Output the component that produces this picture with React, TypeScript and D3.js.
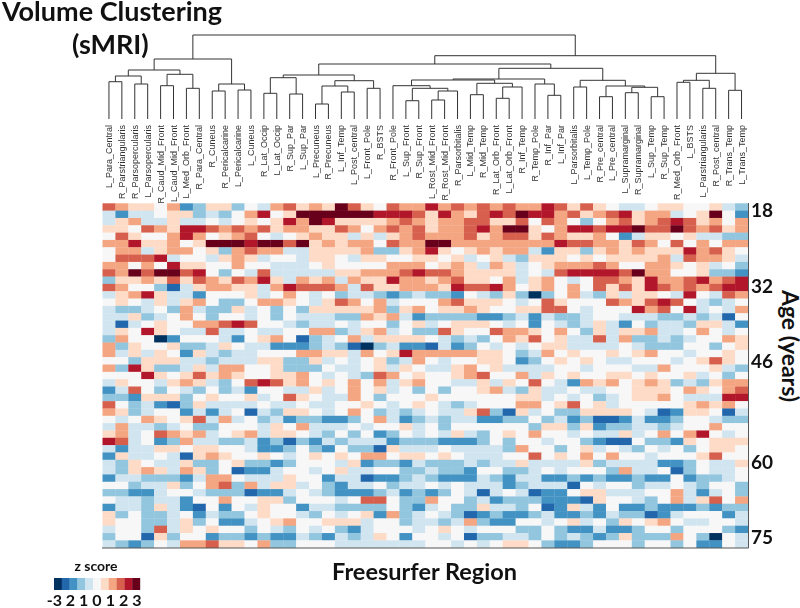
import React from "react";
import * as d3 from "d3";

const regions = ["L_Para_Central","R_Parstriangularis","R_Parsopercularis","L_Parsopercularis","R_Caud_Mid_Front","L_Caud_Mid_Front","L_Med_Orb_Front","R_Para_Central","R_Cuneus","R_Pericalcarine","L_Pericalcarine","L_Cuneus","R_Lat_Occip","L_Lat_Occip","R_Sup_Par","L_Sup_Par","L_Precuneus","R_Precuneus","L_Inf_Temp","L_Post_central","L_Front_Pole","R_BSTS","R_Front_Pole","L_Sup_Front","R_Sup_Front","L_Rost_Mid_Front","R_Rost_Mid_Front","R_Parsorbitalis","L_Mid_Temp","R_Mid_Temp","R_Lat_Orb_Front","L_Lat_Orb_Front","R_Inf_Temp","R_Temp_Pole","R_Inf_Par","L_Inf_Par","L_Parsorbitalis","L_Temp_Pole","R_Pre_central","L_Pre_central","L_Supramarginal","R_Supramarginal","L_Sup_Temp","R_Sup_Temp","R_Med_Orb_Front","L_BSTS","L_Parstriangularis","R_Post_central","R_Trans_Temp","L_Trans_Temp"];

const palette = ["#053061","#2166ac","#4393c3","#92c5de","#d1e5f0","#f7f7f7","#fddbc7","#f4a582","#d6604d","#b2182b","#67001f"];
const levels = "abcdefghijk";

const leftHalf = [
"i h g g f h c d g g d f e h i g h g k i g f i h h",
"e c e e f g g d e d f h j f g k k k k k k j j j i",
"e g h e e g e e f e f g f g j h k j g g g g h i h",
"g g f i h g j j i h i h i g h h g g i h f h i h i",
"f i g f f h j h f g h i f e f g h g g e g e g h i",
"h h j g g h f g k k k j k k i k g h g h h f i h h",
"f h h e g h h f g d h i h h e e g g g g h d d g h",
"f i i i j e f f e g h g e f f e g g f e g g f f g",
"h h f h f j g g f f h f f e e e f g f f f f h h h",
"i h k i k k i j f d f e i e e e e e g g h h h i j",
"d g g h g i g i h g i h j g e h g h e h g g j h h",
"i h f f d b e g h h g g e h j i i i h e i g g h h",
"e g h j g e e c f f f g e f h f e f d e e d c d e",
"f g f e g e g h f d d f h h g f e g i h f h e f f",
"e d d e f d h e d d g e f d f d g g g g g h d g h",
"e e g d e f h f d f f e f d f e e e d d h g h e c",
"e b e f g f f h h i j i f f e d e e f e f f d f g",
"e g f j g f e e i e e f e e f f h h d e g h e f d",
"d h f f a c f f f e c f g h f b d e f h e g g g g",
"h d g f f g d d e g f e e c c c d e d b a d e c c",
"h e g e g f c g e d e e f f f h h g g e h f g j h",
"f f d g g g e e d e e e g g d d g e f e f g d e h",
"h d j g d d e g e h h f f g d d d f e e f g e g f",
"f f f j g f g i g h g f f g g h f e f e d i h f g",
"e g f f e g h g e d f i j i g h f g f h f h e g h",
"c e i f d f e d f d e c f f e e g e f h f g e f d",
"d d c g g g d f g f f g e f i g f e e h f d f f f",
"i f d e c b d g e e e e f e e f e e f f g f e f g",
"h g d e f f c e c e f b e d g g f e f h f d e d e",
"f e f h g f g i e h e f d e c d d c c d f h e c d",
"e h e e d e f d d f f f e g f h e e e f e f f g e",
"g h e f i h g h e f g h e g g f e d f d f c d f e",
"j i e f c d h e e d d e c d b d c e d e e e c d d",
"e c e e g g f g g f f e c c d f d c f d d b g e e",
"c g e e f e b g h g f f g f e f g f g f h h f g g",
"e d g f e e g d d f g d d c d f f f e g c d d c e",
"e d g h g e h g d f b c c e f f e f g e e f f d d",
"c e e d d d c e h h f e e e g f f c e e b c c d e",
"f f d e e g d f h i d h e g g e f d c e e f d e e",
"d d c c e f f e d d d b c c e f e d c c c d e c d",
"f e e d e e c f f h f f g g d f f f e f i i f d d",
"c e e d g e c b f c f e g f f c e e d d d d f d c",
"g d f d d e f c e d d f g f f e d f e f g c h d e",
"g f f d d e g d f c c e f g h f f g g g e f f d e",
"e f f d i e g f g f f d f e d f e f d c e f f f e",
"d f f b g d f f c d d c d c c e d c e d e g f c f",
"e d c d f e h h i g g f h d d f f f e e e e e e e",
];

const rightHalf = [
"j h i h i h i h h j i g i g f e e f g g f f g e d",
"g j h g i j i k j j h i g h i j g h h e f g k f c",
"g h h i i g g i f i h f d f h i g h i j i g h f h",
"g h h i j h k k g f h j j i j j k i i k i h i g h",
"h h h i g h i i g i h g g h f c e g g f g e e d d",
"k k h h h h h h h h j i i h h g i h f i f h f h h",
"j g f g h g h h e c g g d g h g h g g g j h i g f",
"g f g e f g e d g g g f g f g g g g h e i h h g e",
"f g h g e h g e f g h h h i h f f h h g f g e f d",
"i i h g g g g e f e i j j j j i k h h f f g d d c",
"g h i g g f h e g h f e f i i h g j h h i j h i j",
"h g j i i j h f g h f h f i g i g j i h i h i j j",
"d d c f e d g d a d f h e d g e g g f e j f e i h",
"f h i g g g f e f i g f f f i h g i j i f e d e f",
"f g g h g f f g g i i f e f f f j h i f j e f e h",
"d d d d c c d e c e d d e f f e e e d d e d e b f",
"e f g g g f e f c f e d e g e c f d e e d g g e c",
"d i g f f i h h g f h f d g e g g h e e f h f e f",
"f e d e d f h g i f g e e i e h d d e d e f f h g",
"b e c d f e f e f g g e e e e f e d d d f f d f g",
"h h h h g g f d e h f g f f g f g h f f e f f g f",
"f e f f g g f c d f g f g f e e f f f e f g i g f",
"e e g h f g e e e e f f e f f f e e h f f f g e d",
"f f g h i f f h e g f g f f g g f g f f g e f d f",
"f f e e g e g f i f e c h g h f g h g d e d g h h",
"f d f f g h e d g e e f e e f f g g g f h g f h i",
"g f f f f f f g g e f e f d e f g g h f e e e j j",
"f e d e f f f h h f g i f g e f f f f f g h g h f",
"f e e g i d b g e f d d g g g g f e b c g g f b e",
"e d e e c c d d f d e c d b b c e c c d f f e d d",
"f d f f f f f f d g g d g c d d e e d e f f h f f",
"f e g e d f g f h f f e f e e g e f h f h j f e f",
"d c c c d f d f f e f f d c b b f d d c g f g g g",
"e f e e e e d h f f d f g e f e d f e f d f g g f",
"f g f e e e f f i f g f h f h f f e f f f g i f f",
"d d d e d e e g e e e e g d e e e e c c d f e e g",
"e d d c f f d d e f e f f f d h e e f b d f e e f",
"d c c c e d c e e c c d c d c c d c c f c d d e f",
"f e f e e e c d e e e b f e f f d e e f e d f f d",
"c d f e b e f e b c c f g g e e e f f h e c e f d",
"h f f d e c d d d c c c b g f f e d f h e g i f h",
"e f d d g e e d f b c g e c f c c d c c c d c d d",
"f e d b c d c c d e c c d c e d d b c e f f f c e",
"e d e h d c c f f e f g e f d g f g h f e e f f e",
"f g f e f f f d d f d c c e c c d f f d f f f d c",
"f e f b d d e e d f d e d c d g d d d h f d a f e",
"f f e f e f g g f d c c d f f f d f f d f c c f e",
];

const ageTicks = [18, 32, 46, 60, 75];
const ageTickRows = [0.78, 11.15, 21.5, 35.2, 45.5];
const legendTicks = ["-3", "2", "1", "0", "1", "2", "3"];

// [merge height, left child, right child]; a plain number is a leaf (index into regions)
type Node = number | [number, Node, Node];
const clusterA: Node = [60,
  [49,
    [43, [37.3, 0, 1], [35, 2, 3]],
    [44.7, [33.3, 4, 5], [30.7, 6, 7]]],
  [35, [28, 8, 9], [29, 10, 11]]];
const clusterB: Node = [44,
  [41.3, [25.7, 12, 13], [25, 14, 15]],
  [38.3, [33, [15, 16, 17], [27, 18, 19]], [30.7, 20, 21]]];
const clusterC: Node = [40,
  [39,
    [33.3, 22, [30.7, [18.3, 23, 24], [28, [19, 25, 26], 27]]],
    [35.7, [24.3, 28, 29], [32, [20.7, 30, 31], 32]]],
  [35, 33, [23.7, 34, 35]]];
const clusterD: Node = [38.7,
  [32, 36, 37],
  [33, [22.3, 38, 39], [31.7, [26.3, 40, 41], [22.3, 42, 43]]]];
const clusterE: Node = [45.7,
  [38.7, [36.7, 44, 45], [30.7, 46, 47]],
  [28.7, 48, 49]];
const tree: Node = [84, clusterA, [63.3, [55, clusterB, [50.7, clusterC, clusterD]], clusterE]];

const W = 800, H = 608;
const x = d3.scaleBand<number>().domain(d3.range(regions.length)).range([102.5, 748]);
const y = d3.scaleBand<number>().domain(d3.range(leftHalf.length)).range([203.3, 547.7]);
const rowY = d3.scaleLinear().domain([0, leftHalf.length]).range([203.3, 547.7]);
const h = d3.scaleLinear().domain([0, 84]).range([119, 35]);
const color = (c: string) => palette[levels.indexOf(c)] ?? "#f7f7f7";
const legendX = d3.scaleBand<number>().domain(d3.range(palette.length)).range([54, 140]);
const legendTickX = d3.scaleLinear().domain([0, legendTicks.length - 1]).range([57, 137]);

function links(n: Node, out: string[]): number {
  if (typeof n === "number") return x(n)! + x.bandwidth() / 2;
  const [ht, l, r] = n;
  const xl = links(l, out), xr = links(r, out);
  const yl = typeof l === "number" ? h(0) : h(l[0]);
  const yr = typeof r === "number" ? h(0) : h(r[0]);
  out.push(`M${xl},${yl}V${h(ht)}H${xr}V${yr}`);
  return (xl + xr) / 2;
}

export default function App() {
  const paths: string[] = [];
  links(tree, paths);
  const titleFont = "Lato, 'Open Sans', sans-serif";
  return (
    <svg width={W} height={H} style={{ position: "absolute", left: 0, top: 0, background: "#fff" }}>
      <defs>
        <filter id="soft" x="-2%" y="-2%" width="104%" height="104%"><feGaussianBlur stdDeviation="0.5" /></filter>
        <filter id="soft2" x="-2%" y="-2%" width="104%" height="104%"><feGaussianBlur stdDeviation="0.35" /></filter>
      </defs>
      <g filter="url(#soft)">
        <path d={paths.join("")} fill="none" stroke="#333" strokeWidth={1} />
        {regions.map((r, i) => (
          <text key={i} transform={`translate(${x(i)! + x.bandwidth() / 2 + 3},125) rotate(-90)`} textAnchor="end"
            fontFamily="'Liberation Sans', Arial, sans-serif" fontSize={9} fill="#333">{r}</text>
        ))}
      </g>
      <g filter="url(#soft2)">
        {leftHalf.map((row, i) => row.split(" ").concat(rightHalf[i].split(" ")).map((c, j) => (
          <rect key={`${i}-${j}`} x={x(j)} y={y(i)} width={x.bandwidth() + 0.3} height={y.bandwidth() + 0.3} fill={color(c)} />
        )))}
        <path d={`M748.5,203V548H102`} fill="none" stroke="#555" strokeWidth={1} />
        {palette.map((c, i) => (
          <rect key={i} x={legendX(i)} y={578} width={legendX.bandwidth() + 0.2} height={12} fill={c} />
        ))}
      </g>
      <g fontFamily={titleFont} fontWeight={700} fill="#111">
        <text x={2} y={21} fontSize={27}>Volume Clustering</text>
        <text x={72} y={54} fontSize={27}>(sMRI)</text>
        <text x={424.5} y={580} fontSize={23.5} textAnchor="middle">Freesurfer Region</text>
        <text x={96} y={571} fontSize={14} textAnchor="middle">z score</text>
        {legendTicks.map((t, i) => (
          <text key={i} x={legendTickX(i)} y={606} fontSize={16} textAnchor={i === 0 ? "end" : "middle"} dx={i === 0 ? 5 : 0}>{t}</text>
        ))}
        {ageTicks.map((a, i) => (
          <text key={a} x={751} y={rowY(ageTickRows[i])} fontSize={19} dominantBaseline="central">{a}</text>
        ))}
        <text transform="translate(782,346) rotate(90)" fontSize={23} textAnchor="middle">Age (years)</text>
      </g>
    </svg>
  );
}
